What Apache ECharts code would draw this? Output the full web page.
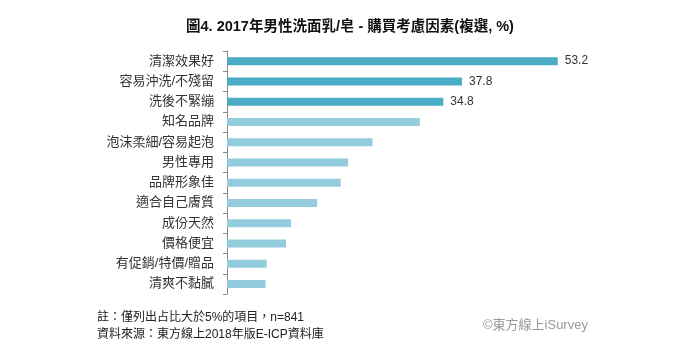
<!DOCTYPE html>
<html>
<head>
<meta charset="utf-8">
<script src="https://cdn.jsdelivr.net/npm/echarts@6/dist/echarts.min.js"></script>
<style>
html,body{margin:0;padding:0;background:#fff;}
#chart{width:700px;height:360px;}
</style>
</head>
<body>
<div id="chart"></div>
<script>
const titleText = '圖4. 2017年男性洗面乳/皂 - 購買考慮因素(複選, %)';
const categories = ['清潔效果好','容易沖洗/不殘留','洗後不緊繃','知名品牌','泡沫柔細/容易起泡','男性專用','品牌形象佳','適合自己膚質','成份天然','價格便宜','有促銷/特價/贈品','清爽不黏膩'];
const values = [53.2, 37.8, 34.8, 31.0, 23.4, 19.5, 18.3, 14.5, 10.3, 9.5, 6.4, 6.2];
const labeled = [true, true, true, false, false, false, false, false, false, false, false, false];
const noteLines = ['註：僅列出占比大於5%的項目，n=841', '資料來源：東方線上2018年版E-ICP資料庫'];
const watermark = '©東方線上iSurvey';

const FONT = '"Liberation Sans", Arial, "Noto Sans CJK TC", sans-serif';
const DARK = '#4BACC6';
const LIGHT = '#93CDDD';

const chart = echarts.init(document.getElementById('chart'), null, {renderer: 'canvas'});
chart.setOption({
  animation: false,
  backgroundColor: '#fff',
  title: {
    text: titleText,
    left: 'center',
    top: 15,
    textStyle: {fontFamily: FONT, fontSize: 14.5, fontWeight: 'bold', color: '#111'}
  },
  grid: {left: 227, right: 100, top: 51, bottom: 66, containLabel: false},
  xAxis: {
    type: 'value', min: 0, max: 60,
    show: false
  },
  yAxis: {
    type: 'category',
    data: categories,
    inverse: true,
    axisLine: {show: true, lineStyle: {color: '#888', width: 1}},
    axisTick: {show: true, length: 4, lineStyle: {color: '#888'}},
    axisLabel: {fontFamily: FONT, fontSize: 13, color: '#333', margin: 13},
    splitLine: {show: false}
  },
  series: [{
    type: 'bar',
    barWidth: 8,
    data: values.map((v, i) => ({
      value: v,
      itemStyle: {color: labeled[i] ? DARK : LIGHT},
      label: {show: labeled[i]}
    })),
    label: {
      position: 'right',
      distance: 7,
      fontFamily: FONT,
      fontSize: 12,
      color: '#333',
      formatter: p => p.value.toFixed(1)
    }
  }],
  graphic: [
    {type: 'text', left: 97, top: 312, style: {text: noteLines[0], fontFamily: FONT, fontSize: 12, fill: '#222'}},
    {type: 'text', left: 97, top: 329, style: {text: noteLines[1], fontFamily: FONT, fontSize: 12, fill: '#222'}},
    {type: 'text', left: 483, top: 319, style: {text: watermark, fontFamily: FONT, fontSize: 13, fill: '#999'}}
  ]
});
</script>
</body>
</html>
